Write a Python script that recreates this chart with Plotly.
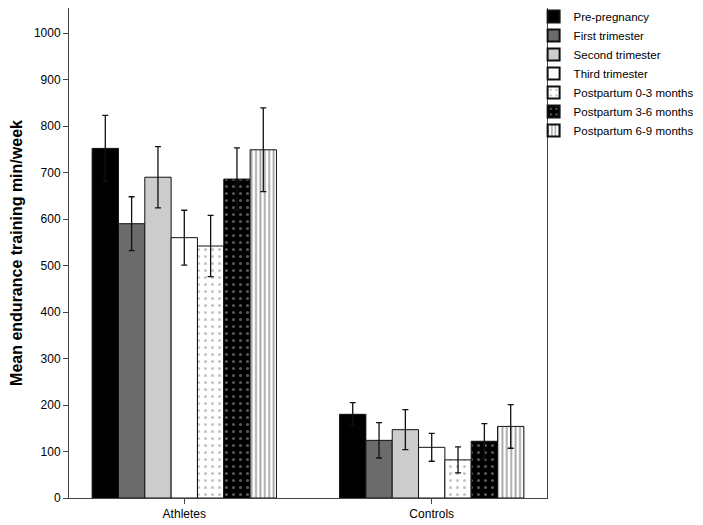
import plotly.graph_objects as go

groups = ["Athletes", "Controls"]
group_pos = [0, 1]
series = ["Pre-pregnancy", "First trimester", "Second trimester", "Third trimester",
          "Postpartum 0-3 months", "Postpartum 3-6 months", "Postpartum 6-9 months"]
means = {
    "Pre-pregnancy": [752, 180],
    "First trimester": [590, 124],
    "Second trimester": [690, 147],
    "Third trimester": [560, 109],
    "Postpartum 0-3 months": [542, 82],
    "Postpartum 3-6 months": [686, 122],
    "Postpartum 6-9 months": [749, 154],
}
errors = {
    "Pre-pregnancy": [71, 25],
    "First trimester": [58, 38],
    "Second trimester": [66, 43],
    "Third trimester": [59, 30],
    "Postpartum 0-3 months": [66, 28],
    "Postpartum 3-6 months": [67, 38],
    "Postpartum 6-9 months": [90, 47],
}
y_ticks = [0, 100, 200, 300, 400, 500, 600, 700, 800, 900, 1000]

styles = {
    "Pre-pregnancy": dict(color="#000000"),
    "First trimester": dict(color="#6b6b6b"),
    "Second trimester": dict(color="#cccccc"),
    "Third trimester": dict(color="#ffffff"),
    "Postpartum 0-3 months": dict(color="#ffffff",
                                  pattern=dict(shape=".", fgcolor="#8a8a8a", bgcolor="#ffffff",
                                               size=7, solidity=0.15, fillmode="overlay")),
    "Postpartum 3-6 months": dict(color="#000000",
                                  pattern=dict(shape=".", fgcolor="#b0b0b0", bgcolor="#000000",
                                               size=7, solidity=0.15, fillmode="overlay")),
    "Postpartum 6-9 months": dict(color="#ffffff",
                                  pattern=dict(shape="|", fgcolor="#444444", bgcolor="#ffffff",
                                               size=4.4, solidity=0.4, fillmode="overlay")),
}

fig = go.Figure()
for s in series:
    st = styles[s]
    marker = dict(color=st["color"], line=dict(color="#111111", width=1))
    if "pattern" in st:
        marker["pattern"] = st["pattern"]
    fig.add_trace(go.Bar(
        name=s, x=group_pos, y=means[s], marker=marker,
        error_y=dict(type="data", array=errors[s], visible=True,
                     color="#111111", thickness=1.3, width=3),
    ))

# page body adds an 8px offset; the figure is sized to fit the 703x525 window
fig.update_layout(
    width=695, height=517,
    margin=dict(l=61, r=156, t=0, b=27, autoexpand=False),
    paper_bgcolor="white", plot_bgcolor="white",
    barmode="group", bargap=0.255, bargroupgap=0,
    font=dict(family="Arial, Liberation Sans, sans-serif", size=12, color="#000000"),
    showlegend=True,
    legend=dict(x=0.972, y=1.012, xanchor="left", yanchor="top",
                bgcolor="rgba(0,0,0,0)", font=dict(size=11.5), tracegroupgap=0,
                itemsizing="constant", borderwidth=0),
    xaxis=dict(range=[-0.466, 1.466], tickvals=group_pos, ticktext=groups,
               showline=True, linecolor="#444444", linewidth=1, mirror=True,
               ticks="outside", ticklen=5, tickcolor="#444444",
               showgrid=False, zeroline=False, automargin=False),
    yaxis=dict(range=[0, 1054], tickvals=y_ticks,
               showline=True, linecolor="#444444", linewidth=1, mirror=True,
               ticks="outside", ticklen=5, tickcolor="#444444",
               showgrid=False, zeroline=False, automargin=False,
               title=dict(text="<b>Mean endurance training min/week</b>",
                          font=dict(size=16), standoff=9)),
)

fig.write_html("out.html")
